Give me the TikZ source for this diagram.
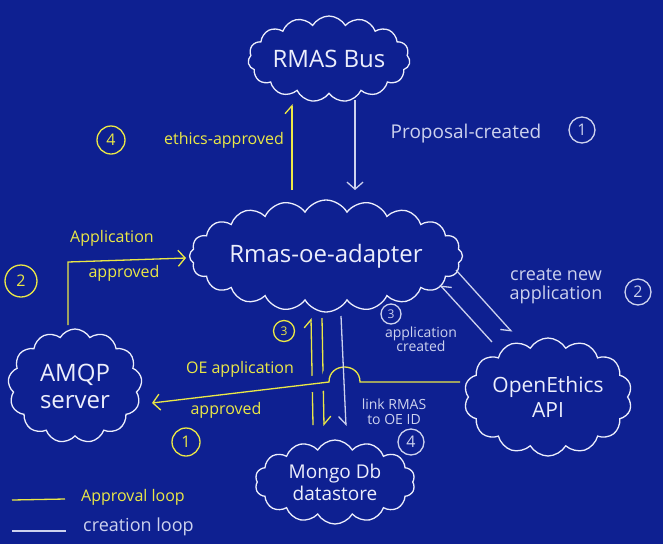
\documentclass[tikz,border=0pt]{standalone}
\usepackage{fontspec}
\setmainfont{Open Sans}
\usetikzlibrary{shapes.symbols,arrows.meta}
\definecolor{bg}{RGB}{14,32,145}
\definecolor{yl}{RGB}{235,232,70}
\definecolor{wh}{RGB}{236,238,252}
\definecolor{gr}{RGB}{205,210,238}
\begin{document}
\begin{tikzpicture}[x=1pt,y=-1pt,
  cl/.style={cloud, cloud puffs=#1, cloud puff arc=120, cloud ignores aspect, draw=wh, line width=1.3pt, text=wh, align=center, inner sep=0pt},
  yline/.style={draw=yl, line width=1.3pt},
  wline/.style={draw=gr, line width=1.3pt},
  full/.style={-{Straight Barb[length=7pt,width=16pt]}},
  halfl/.style={-{Straight Barb[left,length=8pt,width=14pt]}},
  halfr/.style={-{Straight Barb[right,length=8pt,width=14pt]}},
  ytext/.style={text=yl, inner sep=1pt},
  wtext/.style={text=gr, inner sep=1pt, align=center},
  ycirc/.style={circle, draw=yl, line width=1.3pt, text=yl, inner sep=1pt, minimum size=28pt, font=\fontsize{16}{17}\selectfont},
  wcirc/.style={circle, draw=gr, line width=1.3pt, text=gr, inner sep=1pt, minimum size=26pt, font=\fontsize{16}{17}\selectfont}
]
\fill[bg] (0,0) rectangle (663,544);
\useasboundingbox (0,0) rectangle (663,544);

% connector end points
\coordinate (ethA) at (292,190);
\coordinate (ethB) at (292,104);
\coordinate (propA) at (355,100);
\coordinate (propB) at (355,190);
\coordinate (appA) at (68,325);
\coordinate (appK) at (68,262);
\coordinate (appB) at (186,258);
\coordinate (oeA) at (460,382);
\coordinate (oeH1) at (360,382);
\coordinate (oeH2) at (329,382);
\coordinate (oeB) at (152,403);
\coordinate (upA) at (313,425);
\coordinate (upB) at (311,318);
\coordinate (dnA) at (322,318);
\coordinate (dnB) at (324,426);
\coordinate (lnkA) at (341,316);
\coordinate (lnkB) at (346,426);
\coordinate (crA) at (456,270);
\coordinate (crB) at (512,332);
\coordinate (cdA) at (492,342);
\coordinate (cdB) at (440,285);
\coordinate (lgY1) at (12,500);
\coordinate (lgY2) at (65,499);
\coordinate (lgW1) at (12,531);
\coordinate (lgW2) at (66,531);

% approval loop step 3 (drawn first, cut by the crossing line)
\draw[yline, halfl] (upA) -- (upB);
\draw[yline, halfl] (dnA) -- (dnB);

% OE application approved (with hop)
\draw[yline, full, preaction={draw=bg, line width=16pt, -}] (oeA) -- (oeH1)
   .. controls (360,362) and (329,362) .. (oeH2) -- (oeB);

% creation loop link line
\draw[wline, halfr] (lnkA) -- (lnkB);

% nodes
\node[cl=15, minimum width=162pt, minimum height=86pt, font=\fontsize{24}{26}\selectfont] (bus) at (329,59) {RMAS Bus};
\node[cl=20, minimum width=260pt, minimum height=112pt, font=\fontsize{24}{26}\selectfont] (adapter) at (326,256) {Rmas-oe-adapter};
\node[cl=13, minimum width=134pt, minimum height=114pt, font=\fontsize{24}{27}\selectfont] (amqp) at (75,386) {AMQP\\server};
\node[cl=14, minimum width=168pt, minimum height=118pt, font=\fontsize{21}{25}\selectfont] (oe) at (548,397) {OpenEthics\\API};
\node[cl=14, minimum width=160pt, minimum height=84pt, font=\fontsize{19}{22}\selectfont] (mongo) at (335,482) {Mongo Db\\datastore};

% connectors
\draw[yline, halfl] (ethA) -- (ethB);
\draw[wline, full] (propA) -- (propB);
\draw[yline, full] (appA) -- (appK) -- (appB);
\draw[wline, halfr] (crA) -- (crB);
\draw[wline, halfr] (cdA) -- (cdB);
\draw[yline] (lgY1) -- (lgY2);
\draw[wline] (lgW1) -- (lgW2);

% labels
\node[ytext, font=\fontsize{16}{18}\selectfont] (tEth) at (224,140) {ethics-approved};
\node[ycirc] (c4y) at (111,140) {4};
\node[wtext, font=\fontsize{19}{21}\selectfont] (tProp) at (466,134) {Proposal-created};
\node[wcirc] (c1w) at (582,130) {1};
\node[ytext, font=\fontsize{16}{18}\selectfont] (tApp1) at (112,238) {Application};
\node[ytext, font=\fontsize{16}{18}\selectfont] (tApp2) at (124,273) {approved};
\node[ycirc, minimum height=32pt] (c2y) at (21,281) {2};
\node[wtext, font=\fontsize{18}{19}\selectfont] (tCr) at (556,286) {create new\\application};
\node[wcirc] (c2w) at (638,292) {2};
\node[wtext, font=\fontsize{14}{14}\selectfont] (tCd) at (421,339) {application\\created};
\node[wcirc, minimum size=20pt, font=\fontsize{12}{13}\selectfont] (c3w) at (391,314) {3};
\node[ycirc, minimum size=21pt, font=\fontsize{12}{13}\selectfont] (c3y) at (284,331) {3};
\node[ytext, font=\fontsize{16}{18}\selectfont] (tOe1) at (240,369) {OE application};
\node[ytext, font=\fontsize{16}{18}\selectfont] (tOe2) at (226,410) {approved};
\node[ycirc] (c1y) at (186,442) {1};
\node[wtext, font=\fontsize{14}{15}\selectfont] (tLnk) at (394,412) {link RMAS\\to OE ID};
\node[wcirc] (c4w) at (411,442) {4};
\node[ytext, font=\fontsize{16}{18}\selectfont, anchor=west] (tLgY) at (80,497) {Approval loop};
\node[wtext, font=\fontsize{18}{20}\selectfont, anchor=west] (tLgW) at (82,527) {creation loop};
\end{tikzpicture}
\end{document}
